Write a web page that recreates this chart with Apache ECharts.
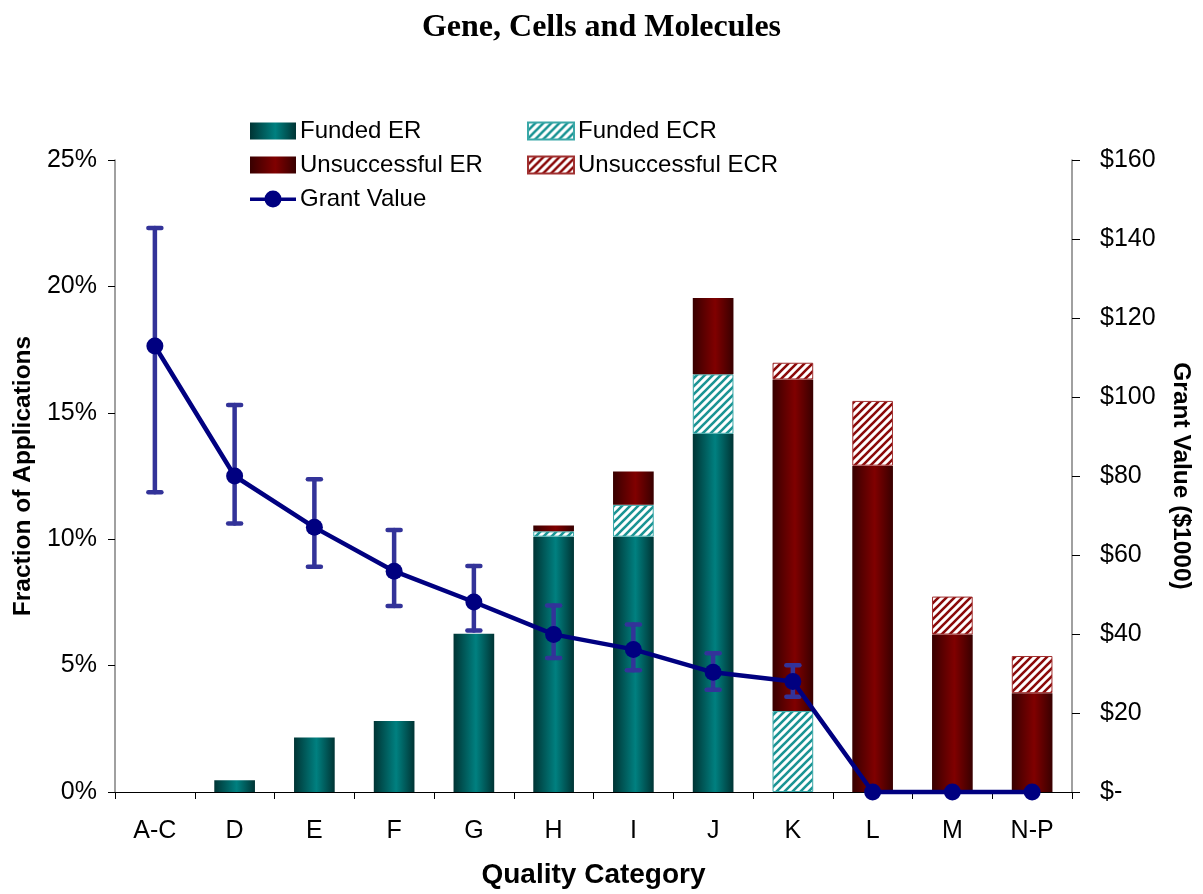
<!DOCTYPE html>
<html>
<head>
<meta charset="utf-8">
<script src="https://cdn.jsdelivr.net/npm/echarts@6/dist/echarts.min.js"></script>
<style>
html,body{margin:0;padding:0;background:#fff;}
#chart{width:1203px;height:894px;}
</style>
</head>
<body>
<div id="chart"></div>
<script>
// ---- data ----
const categories = ['A-C','D','E','F','G','H','I','J','K','L','M','N-P'];
const fundedER   = [0, 0.46, 2.16, 2.81, 6.26, 10.10, 10.10, 14.17, 0, 0, 0, 0];
const fundedECR  = [0, 0, 0, 0, 0, 0.21, 1.26, 2.35, 3.20, 0, 0, 0];
const unsuccER   = [0, 0, 0, 0, 0, 0.23, 1.32, 3.02, 13.12, 12.91, 6.23, 3.91];
const unsuccECR  = [0, 0, 0, 0, 0, 0, 0, 0, 0.66, 2.56, 1.50, 1.47];
const grantValue = [112.9, 80.0, 67.0, 55.9, 48.1, 39.9, 36.1, 30.3, 28.0, 0, 0, 0];
const grantHigh  = [142.8, 98.0, 79.2, 66.3, 57.2, 47.2, 42.4, 35.1, 32.1, null, null, null];
const grantLow   = [75.9, 68.0, 57.0, 47.1, 40.9, 33.9, 30.8, 25.9, 24.1, null, null, null];
const leftTicks  = {min: 0, max: 25, interval: 5};
const rightTicks = {min: 0, max: 160, interval: 20};

// ---- styles ----
function hatch(color){
  const c = document.createElement('canvas');
  c.width = 8; c.height = 8;
  const ctx = c.getContext('2d');
  ctx.fillStyle = '#ffffff';
  ctx.fillRect(0,0,8,8);
  ctx.strokeStyle = color;
  ctx.lineWidth = 2.6;
  ctx.beginPath();
  ctx.moveTo(-2,10); ctx.lineTo(10,-2);
  ctx.moveTo(-6,6); ctx.lineTo(6,-6);
  ctx.moveTo(2,14); ctx.lineTo(14,2);
  ctx.stroke();
  return {image: c, repeat: 'repeat'};
}
function grad(edge, mid){
  return new echarts.graphic.LinearGradient(0,0,1,0,[
    {offset:0, color: edge},{offset:0.55, color: mid},{offset:1, color: edge}
  ]);
}
const tealGrad = grad('#003434', '#008080');
const redGrad  = grad('#380000', '#800000');
const tealHatch = hatch('#1a9494');
const redHatch  = hatch('#8b0a0a');

const FONT = "'Liberation Sans', Arial, sans-serif";
const nz = arr => arr.map(v => v ? v : '-');

const chart = echarts.init(document.getElementById('chart'), null, {renderer:'canvas'});

const lineIcon = 'path://M0,7 L46,7 L46,10.5 L0,10.5 Z M14.5,8.5 A8.5,8.5 0 1 1 31.5,8.5 A8.5,8.5 0 1 1 14.5,8.5 Z';
function legendItem(name, left, top, icon){
  return {
    data:[{name:name, icon:icon || 'rect'}], left:left, top:top, itemWidth:46, itemHeight:17, itemGap:0,
    textStyle:{fontFamily:FONT, fontSize:24, color:'#000', padding:[0,0,0,-1]},
    selectedMode:false
  };
}

const option = {
  backgroundColor:'#ffffff',
  animation:false,
  title:{
    text:'Gene, Cells and Molecules', left:'center', top:7,
    textStyle:{fontFamily:"'Liberation Serif', 'Times New Roman', serif", fontWeight:'bold', fontSize:32, color:'#000'}
  },
  legend:[
    legendItem('Funded ER', 245, 114),
    legendItem('Funded ECR', 522, 114),
    legendItem('Unsuccessful ER', 245, 148),
    legendItem('Unsuccessful ECR', 522, 148),
    legendItem('Grant Value', 245, 182, lineIcon)
  ],
  grid:{left:115, right:131, top:160, bottom:68, containLabel:false},
  xAxis:{
    type:'category', data:categories,
    name:'Quality Category', nameLocation:'middle', nameGap:69,
    nameTextStyle:{fontFamily:FONT, fontWeight:'bold', fontSize:28, color:'#000'},
    axisLine:{lineStyle:{color:'#000', width:1.2}},
    axisTick:{show:true, length:7, alignWithLabel:false, lineStyle:{color:'#000'}},
    axisLabel:{fontFamily:FONT, fontSize:25, color:'#000', margin:27}
  },
  yAxis:[
    {
      type:'value', min:leftTicks.min, max:leftTicks.max, interval:leftTicks.interval,
      name:'Fraction of Applications', nameLocation:'middle', nameGap:77, nameRotate:90,
      nameTextStyle:{fontFamily:FONT, fontWeight:'bold', fontSize:24.5, color:'#000'},
      axisLine:{show:true, lineStyle:{color:'#808080', width:1.5}},
      axisTick:{show:true, length:7, lineStyle:{color:'#000'}},
      splitLine:{show:false},
      axisLabel:{fontFamily:FONT, fontSize:25, color:'#000', margin:18, formatter: v => v + '%'}
    },
    {
      type:'value', min:rightTicks.min, max:rightTicks.max, interval:rightTicks.interval,
      position:'right',
      name:'Grant Value ($1000)', nameLocation:'middle', nameGap:96, nameRotate:-90,
      nameTextStyle:{fontFamily:FONT, fontWeight:'bold', fontSize:24.5, color:'#000'},
      axisLine:{show:true, lineStyle:{color:'#808080', width:1.5}},
      axisTick:{show:true, length:8, lineStyle:{color:'#000'}},
      splitLine:{show:false},
      axisLabel:{fontFamily:FONT, fontSize:25, color:'#000', margin:28, formatter: v => v === 0 ? '$-' : '$' + v}
    }
  ],
  series:[
    {name:'Funded ER', type:'bar', stack:'apps', data:nz(fundedER), barWidth:'51%', z:2,
     itemStyle:{color:tealGrad}},
    {name:'Funded ECR', type:'bar', stack:'apps', data:nz(fundedECR), barWidth:'51%', z:2,
     itemStyle:{color:tealHatch, borderColor:'#3aa8a8', borderWidth:1}},
    {name:'Unsuccessful ER', type:'bar', stack:'apps', data:nz(unsuccER), barWidth:'51%', z:2,
     itemStyle:{color:redGrad}},
    {name:'Unsuccessful ECR', type:'bar', stack:'apps', data:nz(unsuccECR), barWidth:'51%', z:2,
     itemStyle:{color:redHatch, borderColor:'#a03030', borderWidth:1}},
    {
      name:'errorbars', type:'custom', yAxisIndex:1, z:3, silent:true,
      data: categories.map((c,i) => [i, grantLow[i], grantHigh[i]]).filter(d => d[1] != null),
      encode:{x:0, y:[1,2]},
      renderItem:function(params, api){
        const x = api.value(0);
        const lo = api.coord([x, api.value(1)]);
        const hi = api.coord([x, api.value(2)]);
        const hw = 6.5;
        const st = {stroke:'#333399', lineWidth:4.5, lineCap:'round'};
        return {type:'group', children:[
          {type:'line', shape:{x1:lo[0], y1:lo[1], x2:hi[0], y2:hi[1]}, style:st},
          {type:'line', shape:{x1:hi[0]-hw, y1:hi[1], x2:hi[0]+hw, y2:hi[1]}, style:st},
          {type:'line', shape:{x1:lo[0]-hw, y1:lo[1], x2:lo[0]+hw, y2:lo[1]}, style:st}
        ]};
      }
    },
    {
      name:'Grant Value', type:'line', yAxisIndex:1, data:grantValue, z:4, clip:false,
      symbol:'circle', symbolSize:17, color:'#000080',
      lineStyle:{color:'#000080', width:4.5},
      itemStyle:{color:'#000080'}
    }
  ]
};
chart.setOption(option);
</script>
</body>
</html>
